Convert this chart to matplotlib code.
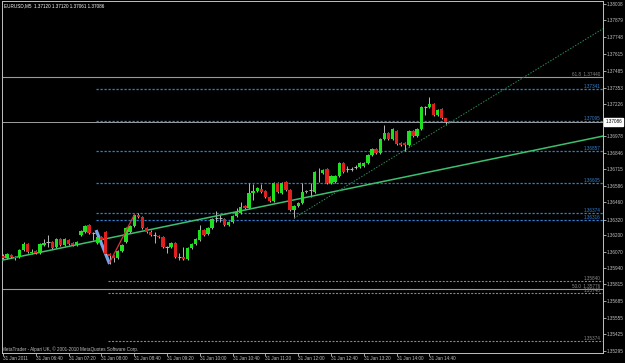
import matplotlib
matplotlib.use('Agg')
import matplotlib.pyplot as plt
import matplotlib.transforms as mtransforms

plt.rcParams['font.family'] = ['Liberation Sans', 'DejaVu Sans']

chart_title = "EURUSD,M5  1.37120 1.37120 1.37061 1.37086"
copyright_text = "MetaTrader - Alpari UK, \u00a9 2001-2010 MetaQuotes Software Corp."

# EURUSD M5 bars, 31 Jan 2011 06:00 .. 14:55
opens = [1.36037, 1.36021, 1.36045, 1.36029, 1.36029, 1.36084, 1.36131, 1.36064, 1.36076, 1.36061,
         1.36123, 1.36147, 1.36147, 1.36107, 1.36170, 1.36123, 1.36162, 1.36139, 1.36123, 1.36201,
         1.36225, 1.36279, 1.36217, 1.36139, 1.36186, 1.36225, 1.36053, 1.36037, 1.36021, 1.36076,
         1.36147, 1.36225, 1.36272, 1.36358, 1.36342, 1.36256, 1.36225, 1.36201, 1.36193, 1.36186,
         1.36107, 1.36107, 1.36139, 1.36029, 1.36029, 1.36014, 1.36100, 1.36131, 1.36162, 1.36240,
         1.36209, 1.36256, 1.36334, 1.36334, 1.36326, 1.36279, 1.36303, 1.36350, 1.36373, 1.36428,
         1.36412, 1.36530, 1.36545, 1.36561, 1.36545, 1.36499, 1.36467, 1.36608, 1.36530, 1.36616,
         1.36553, 1.36397, 1.36428, 1.36452, 1.36538, 1.36553, 1.36538, 1.36686, 1.36686, 1.36718,
         1.36608, 1.36616, 1.36663, 1.36764, 1.36718, 1.36718, 1.36733, 1.36733, 1.36741, 1.36764,
         1.36827, 1.36874, 1.36843, 1.36952, 1.36999, 1.36952, 1.37015, 1.36921, 1.36921, 1.36905,
         1.37015, 1.36976, 1.37030, 1.37202, 1.37202, 1.37226, 1.37140, 1.37187, 1.37120]
highs = [1.36053, 1.36061, 1.36053, 1.36037, 1.36092, 1.36147, 1.36139, 1.36092, 1.36084, 1.36139,
         1.36170, 1.36201, 1.36154, 1.36178, 1.36178, 1.36178, 1.36170, 1.36147, 1.36154, 1.36240,
         1.36279, 1.36287, 1.36225, 1.36193, 1.36193, 1.36233, 1.36061, 1.36045, 1.36084, 1.36131,
         1.36264, 1.36279, 1.36366, 1.36373, 1.36350, 1.36264, 1.36240, 1.36225, 1.36201, 1.36193,
         1.36115, 1.36147, 1.36147, 1.36061, 1.36107, 1.36107, 1.36139, 1.36178, 1.36279, 1.36248,
         1.36264, 1.36334, 1.36389, 1.36358, 1.36334, 1.36311, 1.36358, 1.36412, 1.36459, 1.36436,
         1.36608, 1.36600, 1.36577, 1.36600, 1.36553, 1.36506, 1.36616, 1.36616, 1.36616, 1.36624,
         1.36561, 1.36436, 1.36459, 1.36608, 1.36553, 1.36608, 1.36702, 1.36725, 1.36718, 1.36725,
         1.36671, 1.36671, 1.36772, 1.36772, 1.36741, 1.36733, 1.36749, 1.36772, 1.36772, 1.36835,
         1.36882, 1.36882, 1.36960, 1.37062, 1.37007, 1.37038, 1.37022, 1.36929, 1.36929, 1.37022,
         1.37022, 1.37038, 1.37210, 1.37210, 1.37280, 1.37234, 1.37187, 1.37195, 1.37120]
lows = [1.36014, 1.36014, 1.36021, 1.36006, 1.36021, 1.36076, 1.36061, 1.36053, 1.36053, 1.36053,
        1.36115, 1.36107, 1.36092, 1.36100, 1.36115, 1.36115, 1.36123, 1.36115, 1.36115, 1.36193,
        1.36217, 1.36209, 1.36162, 1.36131, 1.36154, 1.36045, 1.35975, 1.35990, 1.36014, 1.36068,
        1.36139, 1.36217, 1.36264, 1.36334, 1.36248, 1.36217, 1.36193, 1.36139, 1.36178, 1.36100,
        1.36061, 1.36100, 1.36021, 1.36006, 1.36006, 1.36006, 1.36092, 1.36123, 1.36154, 1.36193,
        1.36201, 1.36248, 1.36303, 1.36303, 1.36272, 1.36272, 1.36295, 1.36342, 1.36366, 1.36405,
        1.36405, 1.36475, 1.36538, 1.36530, 1.36491, 1.36459, 1.36459, 1.36530, 1.36522, 1.36545,
        1.36389, 1.36334, 1.36420, 1.36444, 1.36530, 1.36499, 1.36530, 1.36616, 1.36679, 1.36600,
        1.36600, 1.36608, 1.36655, 1.36686, 1.36694, 1.36702, 1.36718, 1.36725, 1.36733, 1.36757,
        1.36819, 1.36835, 1.36835, 1.36944, 1.36944, 1.36944, 1.36905, 1.36897, 1.36858, 1.36897,
        1.36968, 1.36968, 1.37022, 1.37140, 1.37195, 1.37132, 1.37132, 1.37108, 1.37061]
closes = [1.36021, 1.36053, 1.36029, 1.36021, 1.36084, 1.36131, 1.36068, 1.36070, 1.36061, 1.36131,
          1.36139, 1.36146, 1.36100, 1.36170, 1.36123, 1.36170, 1.36131, 1.36123, 1.36147, 1.36233,
          1.36272, 1.36217, 1.36216, 1.36186, 1.36162, 1.36053, 1.36037, 1.36021, 1.36076, 1.36123,
          1.36256, 1.36272, 1.36358, 1.36342, 1.36256, 1.36225, 1.36201, 1.36200, 1.36186, 1.36107,
          1.36106, 1.36139, 1.36029, 1.36028, 1.36014, 1.36100, 1.36131, 1.36170, 1.36240, 1.36201,
          1.36256, 1.36326, 1.36335, 1.36333, 1.36279, 1.36303, 1.36350, 1.36381, 1.36420, 1.36412,
          1.36530, 1.36545, 1.36569, 1.36538, 1.36499, 1.36467, 1.36608, 1.36538, 1.36608, 1.36553,
          1.36397, 1.36428, 1.36452, 1.36538, 1.36545, 1.36552, 1.36694, 1.36690, 1.36710, 1.36608,
          1.36663, 1.36663, 1.36764, 1.36694, 1.36717, 1.36719, 1.36732, 1.36764, 1.36764, 1.36827,
          1.36874, 1.36843, 1.36952, 1.36999, 1.36952, 1.37030, 1.36913, 1.36905, 1.36905, 1.37015,
          1.36976, 1.37030, 1.37202, 1.37200, 1.37226, 1.37140, 1.37179, 1.37116, 1.37086]

time_labels = ["31 Jan 2011", "31 Jan 06:40", "31 Jan 07:20", "31 Jan 08:00", "31 Jan 08:40",
               "31 Jan 09:20", "31 Jan 10:00", "31 Jan 10:40", "31 Jan 11:20", "31 Jan 12:00",
               "31 Jan 12:40", "31 Jan 13:20", "31 Jan 14:00", "31 Jan 14:40"]
time_label_bars = [0, 8, 16, 24, 32, 40, 48, 56, 64, 72, 80, 88, 96, 104]

price_ticks = [1.38008, 1.37879, 1.37748, 1.37615, 1.37485, 1.37353, 1.37226, 1.36978,
               1.36846, 1.36715, 1.36586, 1.36460, 1.36320, 1.36200, 1.36070, 1.35940,
               1.35815, 1.35685, 1.35555, 1.35425, 1.35295]
bid_price = 1.37086

# horizontal levels
blue_levels = [1.37341, 1.37095, 1.36857, 1.36605, 1.36374, 1.36316]
gray_dot_levels = [1.35840, 1.35748, 1.35374]
fib_ratios = ["61.8", "50.0"]
fib_levels = [1.37440, 1.35776]

# trend lines: (bar, price) anchors
trend_bars = [0, 108]
trend_prices = [1.36006, 1.36721]
support_bars = [71, 108]
support_prices = [1.36334, 1.37061]
zig_bars = [22.7, 26.0]
zig_prices = [1.36240, 1.35975]
red_bars = [26.0, 32.0]
red_prices = [1.35985, 1.36358]

BG = '#000000'
AXC = '#c0c0c0'
BULL = '#1fe01f'
BEAR = '#e01f1f'
WICK = '#b8b8b8'
BLUE = '#3380d0'
GRAY = '#8a8a8a'

fig = plt.figure(figsize=(6.25, 3.63), dpi=100, facecolor=BG)
ax = fig.add_axes([2 / 625, 1 - 352.7 / 363, 601 / 625, 351.7 / 363])
ax.set_facecolor(BG)

x_min, x_max = -0.244, 146.34
ax.set_xlim(x_min, x_max)
ax.set_ylim(1.35281, 1.38031)

# levels
ax.hlines(fib_levels, x_min, x_max, colors='#9a9a9a', linewidth=0.8, zorder=1)
ax.hlines(bid_price, x_min, x_max, colors='#a0a0a0', linewidth=0.7, zorder=1)
ax.hlines(blue_levels, 22.7, x_max, colors=BLUE, linewidth=0.9,
          linestyles=(0, (1.8, 1.4)), zorder=1)
ax.hlines(gray_dot_levels, 25.6, x_max, colors=GRAY, linewidth=0.8,
          linestyles=(0, (1.8, 1.4)), zorder=1)

lab_x = x_max - 0.6
for lv in blue_levels:
    ax.text(lab_x, lv, f"{lv:.5f}", color=BLUE, fontsize=3.3, ha='right', va='bottom')
for lv in gray_dot_levels:
    ax.text(lab_x, lv, f"{lv:.5f}", color=GRAY, fontsize=3.3, ha='right', va='bottom')
for r, lv in zip(fib_ratios, fib_levels):
    ax.text(lab_x, lv, f"{r}  {lv:.5f}", color=GRAY, fontsize=3.3, ha='right', va='bottom')

# trend lines extended to right edge
def extend(bars, prices, x_end):
    slope = (prices[1] - prices[0]) / (bars[1] - bars[0])
    return [bars[0], x_end], [prices[0], prices[0] + slope * (x_end - bars[0])]

tx, ty = extend(trend_bars, trend_prices, x_max)
tx[0] = x_min
ty[0] = trend_prices[0] + (trend_prices[1] - trend_prices[0]) / 108 * x_min
ax.plot(tx, ty, color='#3cc070', linewidth=1.1, zorder=3)
sx, sy = extend(support_bars, support_prices, x_max)
ax.plot(sx, sy, color='#2e8b57', linewidth=0.7, linestyle=(0, (1.5, 1.5)), zorder=3)
ax.plot(zig_bars, zig_prices, color='#7aa2e6', linewidth=2.3, solid_capstyle='butt', zorder=2)
ax.plot(red_bars, red_prices, color='#e0303a', linewidth=0.9, zorder=4)

# candles
idx = list(range(len(opens)))
ax.vlines(idx, lows, highs, colors=WICK, linewidth=0.7, zorder=2)
for i, (o, c) in enumerate(zip(opens, closes)):
    if abs(c - o) < 0.00003:
        ax.hlines(o, i - 0.4, i + 0.4, colors=WICK, linewidth=0.8, zorder=3)
    else:
        ax.bar(i, abs(c - o), bottom=min(o, c), width=0.8,
               color=BULL if c > o else BEAR, linewidth=0, zorder=3)

# axes styling
for sp in ax.spines.values():
    sp.set_color(AXC)
    sp.set_linewidth(0.7)
ax.yaxis.tick_right()
ax.set_yticks(price_ticks)
ax.set_yticklabels([f"{p:.5f}" for p in price_ticks])
ax.set_xticks(time_label_bars)
ax.set_xticklabels(time_labels, ha='left')
ax.tick_params(axis='y', colors=AXC, labelsize=3.3, length=2, width=0.6, pad=1)
ax.tick_params(axis='x', colors=AXC, labelsize=3.3, length=2, width=0.6, pad=0.5)

trans = mtransforms.blended_transform_factory(ax.transAxes, ax.transData)
ax.text(1.004, bid_price, f"{bid_price:.5f}", transform=trans, color='black', fontsize=3.3,
        ha='left', va='center',
        bbox=dict(boxstyle='square,pad=0.25', facecolor='white', edgecolor='white'))

ax.text(0.003, 0.993, chart_title, transform=ax.transAxes, color='white', fontsize=3.3,
        ha='left', va='top')
ax.text(0.0, 0.011, copyright_text, transform=ax.transAxes, color=AXC, fontsize=3.3,
        ha='left', va='center')

fig.savefig('out.png', dpi=100, facecolor=BG)
plt.close(fig)
